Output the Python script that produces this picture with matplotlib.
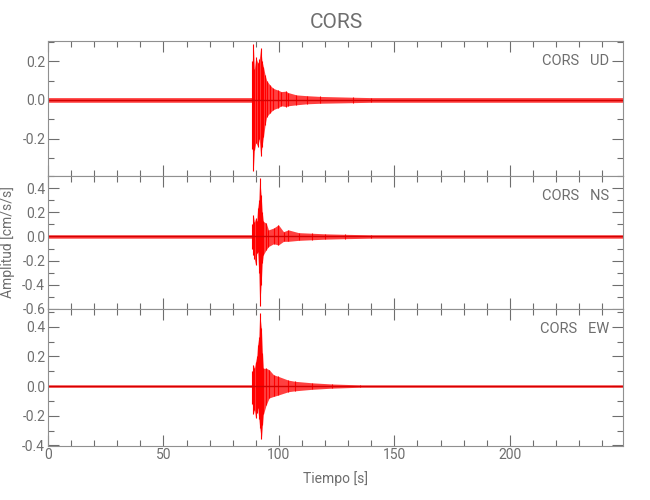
import numpy as np
import matplotlib.pyplot as plt
from matplotlib.ticker import MultipleLocator, FormatStrFormatter

plt.rcParams['font.family'] = ['Roboto', 'DejaVu Sans']

# envelope of each trace: time [s], upper peak, lower peak [cm/s/s]
t_ud = [0, 88.3, 88.5, 88.9, 89.4, 90.0, 90.9, 91.5, 92.1, 92.7, 93.3, 94.0, 94.7, 96.1,
        97.5, 99.7, 101.0, 103.0, 104.0, 107.6, 112.0, 118.0, 132.0, 140.0, 249.0]
up_ud = [0.012, 0.012, 0.20, 0.29, 0.16, 0.22, 0.19, 0.21, 0.266, 0.20, 0.17, 0.13, 0.10, 0.077,
         0.06, 0.05, 0.043, 0.045, 0.038, 0.026, 0.022, 0.018, 0.014, 0.012, 0.012]
lo_ud = [-0.012, -0.012, -0.25, -0.365, -0.26, -0.22, -0.24, -0.20, -0.29, -0.24, -0.19, -0.13, -0.086, -0.067,
         -0.05, -0.04, -0.03, -0.034, -0.03, -0.025, -0.02, -0.017, -0.014, -0.012, -0.012]

t_ns = [0, 88.3, 88.5, 88.9, 89.4, 89.9, 90.4, 90.8, 91.3, 91.7, 92.3, 92.8, 93.3, 94.5, 95.5,
        97.7, 99.8, 102.0, 104.1, 108.5, 114.3, 120.0, 128.6, 140.0, 249.0]
up_ns = [0.014, 0.014, 0.10, 0.18, 0.12, 0.15, 0.13, 0.235, 0.30, 0.485, 0.345, 0.20, 0.125, 0.11, 0.055,
         0.07, 0.097, 0.04, 0.055, 0.032, 0.027, 0.022, 0.018, 0.014, 0.014]
lo_ns = [-0.014, -0.014, -0.10, -0.15, -0.19, -0.235, -0.14, -0.125, -0.30, -0.58, -0.40, -0.22, -0.15, -0.11, -0.083,
         -0.06, -0.07, -0.04, -0.04, -0.032, -0.027, -0.022, -0.018, -0.014, -0.014]

t_ew = [0, 88.3, 88.5, 88.9, 89.4, 89.9, 90.4, 90.8, 91.3, 91.7, 92.4, 92.9, 93.3, 94.5, 95.8,
        97.7, 99.8, 104.1, 107.0, 114.3, 123.0, 135.0, 249.0]
up_ew = [0.008, 0.008, 0.10, 0.145, 0.12, 0.165, 0.20, 0.28, 0.33, 0.49, 0.39, 0.22, 0.12, 0.12, 0.11,
         0.076, 0.065, 0.04, 0.032, 0.022, 0.014, 0.008, 0.008]
lo_ew = [-0.008, -0.008, -0.12, -0.19, -0.16, -0.215, -0.18, -0.15, -0.22, -0.28, -0.36, -0.26, -0.19, -0.126, -0.08,
         -0.07, -0.06, -0.038, -0.032, -0.022, -0.014, -0.008, -0.008]

traces = [(t_ud, up_ud, lo_ud, 'CORS   UD', (-0.39, 0.305)),
          (t_ns, up_ns, lo_ns, 'CORS   NS', (-0.601, 0.504)),
          (t_ew, up_ew, lo_ew, 'CORS   EW', (-0.401, 0.52))]

gray = '#6e6e6e'
fig = plt.figure(figsize=(6.5, 5), dpi=100)
bounds = [(0.6486, 0.9186), (0.382, 0.6486), (0.109, 0.382)]
axes = []
for (tt, up, lo, name, ylim), (b, top) in zip(traces, bounds):
    ax = fig.add_axes([0.0738, b, 0.8846, top - b])
    ax.fill_between(tt, lo, up, color='#ff1010', alpha=0.8, lw=0)
    # vertical strokes at the read peaks
    ax.vlines(tt[1:-1], lo[1:-1], up[1:-1], color='red', lw=0.8)
    ax.axhline(0, color='#d40000', lw=1.0)
    ax.set_xlim(0, 249)
    ax.set_ylim(*ylim)
    ax.xaxis.set_major_locator(MultipleLocator(50))
    ax.xaxis.set_minor_locator(MultipleLocator(10))
    ax.yaxis.set_major_locator(MultipleLocator(0.2))
    ax.yaxis.set_minor_locator(MultipleLocator(0.1))
    ax.yaxis.set_major_formatter(FormatStrFormatter('%.1f'))
    ax.tick_params(which='both', direction='in', top=True, right=True, colors=gray,
                   labelsize=10, pad=2)
    ax.tick_params(which='major', length=8, width=0.8)
    ax.tick_params(which='minor', length=4, width=0.8)
    for s in ax.spines.values():
        s.set_color('#909090')
        s.set_linewidth(0.8)
    ax.text(0.976, 0.85, name, transform=ax.transAxes, ha='right', va='center',
            color=gray, fontsize=10.5)
    axes.append(ax)

for ax in axes[:2]:
    ax.tick_params(labelbottom=False)
axes[2].set_xlabel('Tiempo [s]', color=gray, fontsize=10, labelpad=6)
axes[1].set_ylabel('Amplitud [cm/s/s]', color=gray, fontsize=10, labelpad=5)
fig.text(0.517, 0.955, 'CORS', ha='center', va='center', color=gray, fontsize=15)

fig.savefig('out.png', dpi=100)
